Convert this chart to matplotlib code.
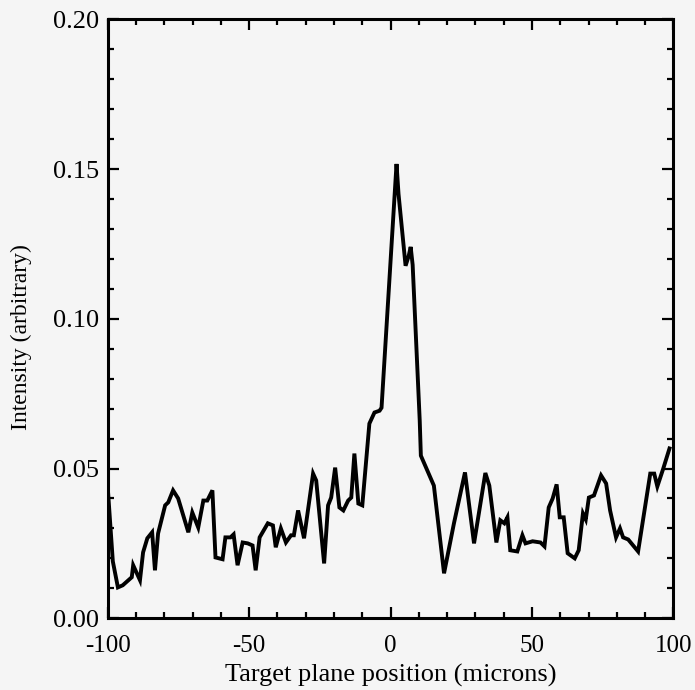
import matplotlib.pyplot as plt
from matplotlib.ticker import MultipleLocator, FormatStrFormatter

# target plane position (microns)
x = [-100, -98.2, -96.4, -94.7, -91.5, -91.0, -88.6, -87.5, -86.0, -84.3,
     -83.3, -82.2, -79.7, -78.6, -76.9, -75.1, -71.5, -70.1, -68.0, -66.2,
     -64.8, -63.0, -61.9, -59.4, -58.4, -56.6, -55.5, -54.1, -52.3, -50.5,
     -48.8, -47.7, -46.3, -43.4, -41.6, -40.6, -38.8, -37.0, -35.2, -34.2,
     -32.7, -30.6, -27.4, -26.3, -23.5, -22.1, -21.0, -19.6, -18.1, -16.7,
     -15.0, -13.9, -12.8, -11.4, -10.0, -7.5, -5.7, -3.9, -3.2, 2.1,
     2.8, 5.3, 6.4, 7.1, 7.8, 10.3, 10.7, 15.3, 18.9, 22.4,
     26.3, 29.5, 33.5, 34.9, 37.4, 38.8, 40.2, 41.3, 42.3, 44.8,
     46.6, 47.7, 50.2, 53.0, 54.4, 55.9, 57.3, 58.7, 59.8, 61.2,
     62.6, 65.1, 66.5, 68.0, 69.0, 70.1, 71.9, 74.4, 76.2, 77.6,
     79.7, 81.1, 82.2, 84.0, 87.5, 91.8, 93.2, 94.3, 96.4, 98.6]
# intensity (arbitrary)
y = [0.0437, 0.019, 0.0103, 0.011, 0.0137, 0.0177, 0.0127, 0.022, 0.0267, 0.0287,
     0.016, 0.0283, 0.0377, 0.0387, 0.0427, 0.040, 0.0287, 0.0353, 0.0303, 0.0393,
     0.0393, 0.0427, 0.0203, 0.0197, 0.027, 0.027, 0.028, 0.0177, 0.0253, 0.025,
     0.0243, 0.016, 0.027, 0.0317, 0.031, 0.0237, 0.030, 0.0253, 0.0277, 0.0277,
     0.036, 0.0267, 0.0483, 0.046, 0.0183, 0.0377, 0.0403, 0.0503, 0.037, 0.036,
     0.0393, 0.0403, 0.055, 0.0383, 0.0377, 0.065, 0.0687, 0.0693, 0.0703, 0.1517,
     0.1417, 0.1177, 0.121, 0.124, 0.118, 0.066, 0.0543, 0.0443, 0.015, 0.0317,
     0.0487, 0.025, 0.0485, 0.0443, 0.0253, 0.0327, 0.0317, 0.0337, 0.0227, 0.0223,
     0.0277, 0.025, 0.0257, 0.0253, 0.024, 0.037, 0.040, 0.0447, 0.0337, 0.0337,
     0.0217, 0.020, 0.0227, 0.035, 0.033, 0.0403, 0.041, 0.0477, 0.045, 0.036,
     0.027, 0.030, 0.027, 0.0263, 0.0223, 0.0483, 0.0483, 0.044, 0.050, 0.0567]

plt.rcParams['font.family'] = ['Liberation Serif', 'DejaVu Serif']
plt.rcParams['axes.unicode_minus'] = False

fig = plt.figure(figsize=(6.95, 6.90), dpi=100, facecolor='#f5f5f5')
ax = fig.add_axes([0.155, 0.104, 0.814, 0.868])
ax.set_facecolor('#f5f5f5')

ax.plot(x, y, color='black', linewidth=2.8, solid_joinstyle='miter')

ax.set_xlim(-100, 100)
ax.set_ylim(0, 0.2)
ax.xaxis.set_major_locator(MultipleLocator(50))
ax.xaxis.set_minor_locator(MultipleLocator(10))
ax.yaxis.set_major_locator(MultipleLocator(0.05))
ax.yaxis.set_minor_locator(MultipleLocator(0.01))
ax.yaxis.set_major_formatter(FormatStrFormatter('%.2f'))

ax.tick_params(which='both', direction='in', top=True, right=True,
               width=1.6, colors='black')
ax.tick_params(which='major', length=8)
ax.tick_params(which='minor', length=4.5)
ax.tick_params(axis='x', which='major', labelsize=18, pad=12)
ax.tick_params(axis='y', which='major', labelsize=19, pad=6)
for s in ax.spines.values():
    s.set_linewidth(2.2)

ax.set_xlabel('Target plane position (microns)', fontsize=19, labelpad=5)
ax.set_ylabel('Intensity (arbitrary)', fontsize=17)
ax.yaxis.set_label_coords(-0.133, 0.47)

fig.savefig('out.png', dpi=100, facecolor=fig.get_facecolor())
